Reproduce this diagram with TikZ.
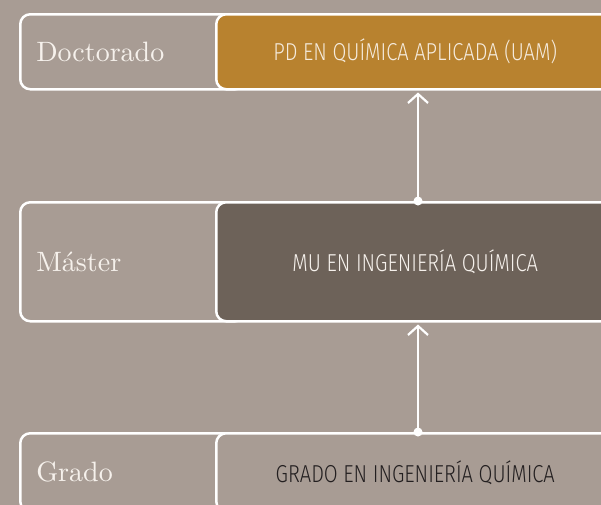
\documentclass[tikz,border=0pt]{standalone}
\usepackage{fontspec}
\usetikzlibrary{arrows.meta}
\newfontfamily\rsans{Fira Sans Light}[FakeStretch=0.82]
\newfontfamily\lserif{lmroman10-regular}[Extension=.otf]
\definecolor{bgc}{HTML}{A89C94}
\definecolor{goldc}{HTML}{B8822F}
\definecolor{darkc}{HTML}{6D6259}
\definecolor{lighttxt}{HTML}{F6F1EC}
\definecolor{goldtxt}{HTML}{F5EBDD}
\definecolor{darktxt}{HTML}{231F20}
\tikzset{
  leftbox/.style={draw=white, line width=2.5pt, rounded corners=10pt, fill=bgc,
    anchor=north west, text width=193pt, inner xsep=16pt, inner ysep=0pt, align=left,
    font=\lserif\fontsize{28}{30}\selectfont, text=lighttxt},
  rightbox/.style={draw=white, line width=2.5pt, rounded corners=10pt,
    anchor=north west, minimum width=398pt, inner sep=0pt,
    font=\rsans\fontsize{24.5}{27}\selectfont},
  conn/.style={draw=white, line width=2.2pt, -{Straight Barb[length=9pt,width=20pt,line width=2.2pt]}, shorten >=2pt},
  jdot/.style={fill=white}
}
\begin{document}
\begin{tikzpicture}[x=1pt,y=-1pt]
\useasboundingbox (0,0) rectangle (601,504);
\fill[bgc] (-6,-6) rectangle (607,510);
% top row
\node[leftbox, minimum height=75pt] (dl) at (19,13) {Doctorado};
\node[rightbox, minimum height=75pt, fill=goldc, text=goldtxt] (dr) at (215,13) {PD EN QUÍMICA APLICADA (UAM)};
% middle row
\node[leftbox, minimum height=119pt] (ml) at (19,201) {Máster};
\node[rightbox, minimum height=119pt, fill=darkc, text=lighttxt] (mr) at (215,201) {MU EN INGENIERÍA QUÍMICA};
% bottom row
\node[leftbox, minimum height=78pt] (gl) at (19,432) {Grado};
\node[rightbox, minimum height=78pt, fill=bgc, text=darktxt] (gr) at (215,432) {GRADO EN INGENIERÍA QUÍMICA};
% connectors
\coordinate (ax) at (418,0);
\draw[conn] (mr.north -| ax) -- (dr.south -| ax);
\fill[jdot] (mr.north -| ax) circle (4.5pt);
\draw[conn] (gr.north -| ax) -- (mr.south -| ax);
\fill[jdot] (gr.north -| ax) circle (4.5pt);
\end{tikzpicture}
\end{document}
